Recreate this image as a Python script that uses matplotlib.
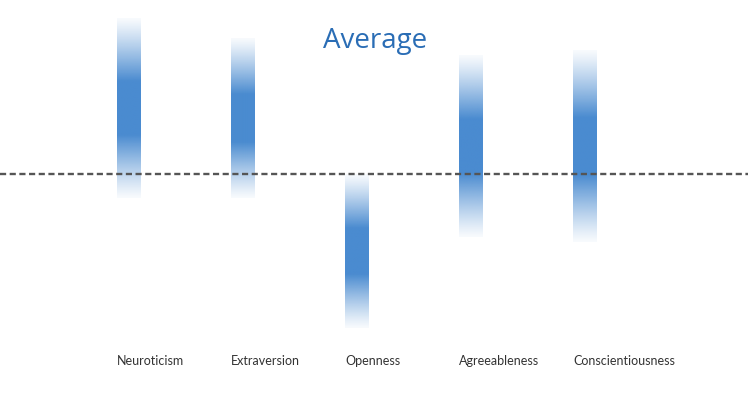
import matplotlib.pyplot as plt
import numpy as np
from matplotlib.colors import to_rgb

traits = ["Neuroticism", "Extraversion", "Openness", "Agreeableness", "Conscientiousness"]
# score relative to average (0 = average) and spread of each band
centers = [66, 56, -77, 28, 28]
spreads = [90, 80, 77, 91, 96]

bar_color = "#4a8bd0"
bar_w = 0.21

fig = plt.figure(figsize=(7.48, 4.2), dpi=100)
ax = fig.add_axes([0, 0, 1, 1])
ax.axis("off")

# gradient profile: fade in at both ends, solid core in the middle
t = np.linspace(-1, 1, 400)
u = np.clip((1 - np.abs(t)) / 0.7, 0, 1)
alpha = 0.04 + 0.96 * u ** 1.15
rgba = np.zeros((len(t), 1, 4))
rgba[:, 0, :3] = to_rgb(bar_color)
rgba[:, 0, 3] = alpha

for i, (c, s) in enumerate(zip(centers, spreads)):
    ax.imshow(rgba, extent=[i - bar_w / 2, i + bar_w / 2, c - s, c + s],
              aspect="auto", interpolation="bilinear", zorder=1)
    ax.text(i - bar_w / 2, -187, traits[i], ha="left", va="center",
            fontsize=9, family="Lato", color="#333333")

ax.axhline(0, color="#555555", lw=1.7, ls=(0, (2.6, 1.5)), zorder=2)
ax.set_xlim(-129 / 114, (748 - 129) / 114)
ax.set_ylim(-246, 174)

fig.text(0.501, 1 - 41 / 420, "Average", ha="center", va="center",
         fontsize=20, family="Open Sans", color="#2a6db5")

fig.savefig("out.png", dpi=100)
